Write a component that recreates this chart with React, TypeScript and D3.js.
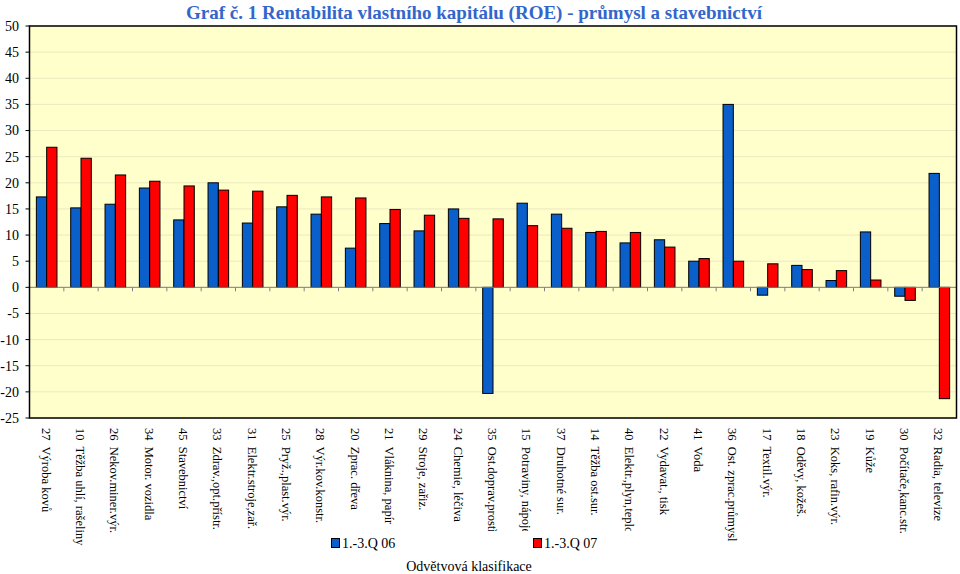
import React from "react";
import * as d3 from "d3";

const categories = [
  "27  Výroba kovů",
  "10  Těžba uhlí, rašeliny",
  "26  Nekov.miner.výr.",
  "34  Motor. vozidla",
  "45  Stavebnictví",
  "33  Zdrav.,opt.přístr.",
  "31  Elektr.stroje,zař.",
  "25  Pryž.,plast.výr.",
  "28  Výr.kov.konstr.",
  "20  Zprac. dřeva",
  "21  Vláknina, papír",
  "29  Stroje, zařiz.",
  "24  Chemie, léčiva",
  "35  Ost.doprav.prostř.",
  "15  Potraviny, nápoje",
  "37  Druhotné sur.",
  "14  Těžba ost.sur.",
  "40  Elektr.,plyn,teplo",
  "22  Vydavat., tisk",
  "41  Voda",
  "36  Ost. zprac.průmysl",
  "17  Textil.výr.",
  "18  Oděvy, kožeš.",
  "23  Koks, rafin.výr.",
  "19  Kůže",
  "30  Počítače,kanc.str.",
  "32  Radia, televize",
];

const q06 = [17.3, 15.2, 15.9, 19.0, 12.9, 20.0, 12.3, 15.4, 14.0, 7.5, 12.2, 10.8, 15.0, -20.3, 16.1, 14.0, 10.5, 8.5, 9.1, 5.0, 35.0, -1.5, 4.2, 1.3, 10.6, -1.7, 21.8];
const q07 = [26.8, 24.7, 21.5, 20.3, 19.4, 18.6, 18.4, 17.6, 17.3, 17.1, 14.9, 13.8, 13.2, 13.1, 11.8, 11.3, 10.7, 10.5, 7.7, 5.5, 5.0, 4.5, 3.4, 3.2, 1.4, -2.5, -21.3];

const seriesNames = ["1.-3.Q 06", "1.-3.Q 07"];
const seriesColors = ["#0A5FCB", "#FF0000"];
const yTicks = [50, 45, 40, 35, 30, 25, 20, 15, 10, 5, 0, -5, -10, -15, -20, -25];

const title = "Graf č. 1 Rentabilita vlastního kapitálu (ROE) - průmysl a stavebnictví";
const axisTitle = "Odvětvová klasifikace";

const W = 960;
const H = 574;
const plot = { left: 29.5, right: 956.5, top: 26, bottom: 418 };
const FONT = "'Liberation Serif', 'Times New Roman', Times, serif";

export default function App() {
  const x = d3.scaleBand<string>().domain(categories).range([plot.left, plot.right]).padding(0);
  const y = d3.scaleLinear().domain([-25, 50]).range([plot.bottom, plot.top]);
  const groupW = x.bandwidth() * 0.6;
  const xs = d3.scaleBand<number>().domain([0, 1]).range([0, groupW]).padding(0);
  const data = [q06, q07];
  const y0 = y(0);
  const ts = { fontFamily: FONT } as React.CSSProperties;

  return (
    <svg
      width={W}
      height={H}
      style={{ position: "absolute", left: 0, top: 0, background: "#ffffff", fontFamily: FONT }}
    >
      <rect x={0} y={0} width={W} height={H} fill="#ffffff" />
      <text x={474} y={19} textAnchor="middle" fontSize={19} fontWeight="bold" fill="#3366CC" style={ts}>
        {title}
      </text>
      <rect
        x={plot.left}
        y={plot.top}
        width={plot.right - plot.left}
        height={plot.bottom - plot.top}
        fill="#FFFFCC"
      />
      {yTicks.map((t) => (
        <line
          key={"g" + t}
          x1={plot.left}
          x2={plot.right}
          y1={y(t)}
          y2={y(t)}
          stroke="#ECE8C0"
          strokeWidth={1}
        />
      ))}
      {data.map((vals, si) =>
        vals.map((v, i) => {
          const cx = (x(categories[i]) as number) + x.bandwidth() / 2 - groupW / 2;
          return (
            <rect
              key={si + "-" + i}
              x={cx + (xs(si) as number)}
              y={Math.min(y(v), y0)}
              width={xs.bandwidth()}
              height={Math.abs(y(v) - y0)}
              fill={seriesColors[si]}
              stroke="#000"
              strokeWidth={1}
            />
          );
        })
      )}
      <line x1={plot.left} x2={plot.right} y1={y0} y2={y0} stroke="#808080" strokeWidth={1} />
      {categories.map((c, i) => (
        <line
          key={"t" + i}
          x1={(x(c) as number) + x.bandwidth()}
          x2={(x(c) as number) + x.bandwidth()}
          y1={y0}
          y2={y0 + 4}
          stroke="#808080"
          strokeWidth={1}
        />
      ))}
      <rect
        x={plot.left}
        y={plot.top}
        width={plot.right - plot.left}
        height={plot.bottom - plot.top}
        fill="none"
        stroke="#000"
        strokeWidth={1.5}
      />
      {yTicks.map((t) => (
        <g key={"yt" + t}>
          <line x1={plot.left - 4} x2={plot.left} y1={y(t)} y2={y(t)} stroke="#000" strokeWidth={1} />
          <text x={19} y={y(t)} dy="0.35em" textAnchor="end" fontSize={14} fill="#000" style={ts}>
            {t}
          </text>
        </g>
      ))}
      {categories.map((c, i) => {
        const cx = (x(c) as number) + x.bandwidth() / 2 - 1;
        return (
          <text
            key={"c" + i}
            transform={`translate(${cx},428) rotate(90)`}
            textAnchor="start"
            dominantBaseline="central"
            fontSize={12.5}
            fill="#000"
            style={{ fontFamily: FONT, whiteSpace: "pre" }}
          >
            {c}
          </text>
        );
      })}
      <rect x={325} y={531} width={325} height={23} fill="#ffffff" />
      <rect x={331.5} y={538.5} width={8} height={9} fill={seriesColors[0]} stroke="#000" strokeWidth={1} />
      <text x={342} y={548} fontSize={14} fill="#000" style={ts}>
        {seriesNames[0]}
      </text>
      <rect x={533.5} y={538.5} width={8} height={9} fill={seriesColors[1]} stroke="#000" strokeWidth={1} />
      <text x={544} y={548} fontSize={14} fill="#000" style={ts}>
        {seriesNames[1]}
      </text>
      <text x={469} y={571} textAnchor="middle" fontSize={14} fill="#000" style={ts}>
        {axisTitle}
      </text>
    </svg>
  );
}
